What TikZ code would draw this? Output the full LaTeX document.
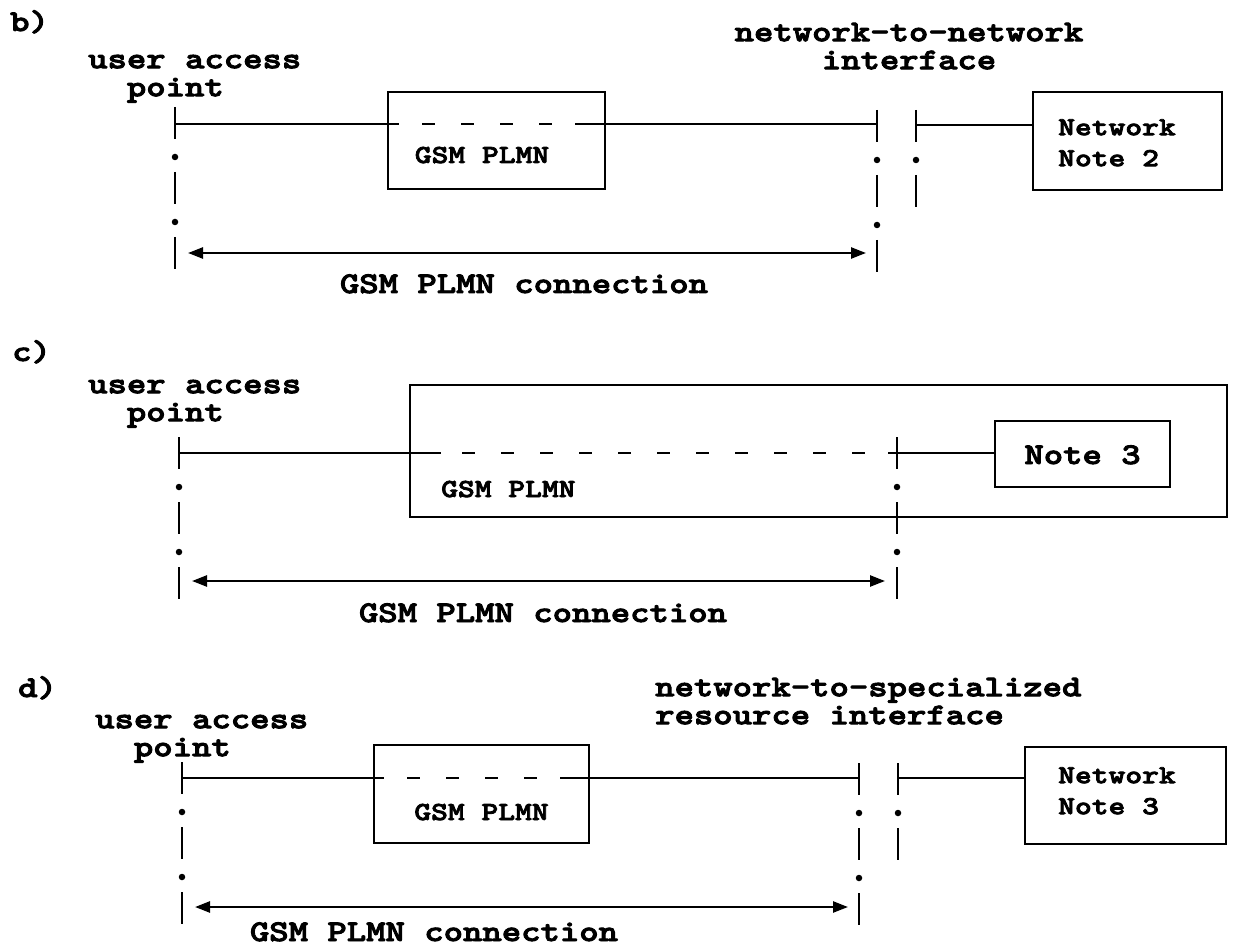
\documentclass[tikz,border=0pt]{standalone}
\usepackage{fontspec}
\newfontfamily\cour{lmmonolt10-bold.otf}[FakeStretch=1.23, FakeBold=3]
\usetikzlibrary{arrows.meta}
\tikzset{
  lw/.style={line width=2.4pt},
  txt/.style={font={\cour\fontsize{30}{28}\selectfont}, inner sep=0pt, anchor=base west},
  ctxt/.style={txt, anchor=base},
  lbl/.style={txt, align=left, anchor=north west},
  clbl/.style={txt, align=center, anchor=north},
  stxt/.style={txt, font={\cour\fontsize{26}{31}\selectfont}},
  sctxt/.style={stxt, anchor=base},
  slbl/.style={stxt, align=left, anchor=north west},
  box/.style={draw, line width=2.4pt, inner sep=0pt},
  indash/.style={lw, dash pattern=on 13pt off 26pt},
  vseg/.style={lw, dash pattern=on 32pt off 33pt},
  vdot/.style={line width=6.5pt, line cap=round, dash pattern=on 0pt off 65pt, dash phase=15pt},
  dimarrow/.style={lw, {Triangle[length=15pt,width=11pt]}-{Triangle[length=15pt,width=11pt]}}
}
\begin{document}
\begin{tikzpicture}[x=1pt,y=-1pt]
\useasboundingbox (0,0) rectangle (1234,949);
% ================= b) =================
\node[txt] (blab) at (10,31) {b)};
\node[lbl] (bua) at (88,48.4) {\strut user access\\\strut\phantom{xx}point};
\node[clbl] (bnn) at (909,21.4) {\strut network-to-network\\\strut interface};
\node[box, minimum width=217pt, minimum height=97pt] (bbox) at (496.5,140.5) {};
\node[sctxt] (bboxt) at (482,163) {GSM PLMN};
\node[box, minimum width=189pt, minimum height=98pt] (nn2) at (1127.5,141) {};
\node[slbl] (nn2t) at (1058,113.3) {\strut Network\\\strut Note 2};
\node[ctxt] (bcon) at (524,293) {GSM PLMN connection};
\coordinate (bLt) at (175,107); \coordinate (bLb) at (175,269);
\coordinate (bRt) at (877,110); \coordinate (bRb) at (877,272);
\coordinate (bR2t) at (916,110); \coordinate (bR2b) at (916,207);
\draw[vseg] (bLt) -- (bLb); \draw[vdot] (bLt) -- (bLb);
\draw[vseg] (bRt) -- (bRb); \draw[vdot] (bRt) -- (bRb);
\draw[vseg] (bR2t) -- (bR2b); \draw[vdot] (bR2t) -- (bR2b);
\coordinate (bL) at (175,124); \coordinate (bR) at (877,124);
\coordinate (bd1) at (399,124); \coordinate (bd2) at (422,124);
\coordinate (bd3) at (554,124); \coordinate (bd4) at (575,124);
\coordinate (bR2) at (916,125);
\draw[lw] (bL) -- (bd1);
\draw[indash] (bd2) -- (bd3);
\draw[lw] (bd4) -- (bR);
\draw[lw] (bR2) -- (bR2 -| nn2.west);
\coordinate (ba1) at (188,253); \coordinate (ba2) at (866,253);
\draw[dimarrow] (ba1) -- (ba2);
% ================= c) =================
\node[txt] (clab) at (12,361) {c)};
\node[lbl] (cua) at (88,373.4) {\strut user access\\\strut\phantom{xx}point};
\node[box, minimum width=817pt, minimum height=132pt] (cbox) at (818.5,451) {};
\node[stxt] (cboxt) at (441,497) {GSM PLMN};
\node[box, minimum width=175pt, minimum height=66pt] (n3) at (1082.5,454) {};
\node[ctxt] (n3t) at (1082.5,464) {Note 3};
\node[ctxt] (ccon) at (543,622) {GSM PLMN connection};
\coordinate (cLt) at (179,437); \coordinate (cLb) at (179,599);
\coordinate (cRt) at (897,437); \coordinate (cRb) at (897,599);
\draw[vseg] (cLt) -- (cLb); \draw[vdot] (cLt) -- (cLb);
\draw[vseg] (cRt) -- (cRb); \draw[vdot] (cRt) -- (cRb);
\coordinate (cL) at (179,453);
\coordinate (cd1) at (441,453); \coordinate (cd2) at (462,453);
\coordinate (cd3) at (865,453); \coordinate (cd4) at (888,453);
\draw[lw] (cL) -- (cd1);
\draw[indash] (cd2) -- (cd3);
\draw[lw] (cd4) -- (cd4 -| n3.west);
\coordinate (ca1) at (192,581); \coordinate (ca2) at (885,581);
\draw[dimarrow] (ca1) -- (ca2);
% ================= d) =================
\node[txt] (dlab) at (18,697) {d)};
\node[lbl] (dua) at (95,708.4) {\strut user access\\\strut\phantom{xx}point};
\node[lbl] (dns) at (655,676.4) {\strut network-to-specialized\\\strut resource interface};
\node[box, minimum width=215pt, minimum height=98pt] (dbox) at (481.5,794) {};
\node[sctxt] (dboxt) at (481.5,820) {GSM PLMN};
\node[box, minimum width=201pt, minimum height=97pt] (nn3) at (1125.5,795.5) {};
\node[slbl] (nn3t) at (1058,761.3) {\strut Network\\\strut Note 3};
\node[ctxt] (dcon) at (434,941) {GSM PLMN connection};
\coordinate (dLt) at (182,762); \coordinate (dLb) at (182,924);
\coordinate (dRt) at (859,763); \coordinate (dRb) at (859,925);
\coordinate (dR2t) at (898,763); \coordinate (dR2b) at (898,860);
\draw[vseg] (dLt) -- (dLb); \draw[vdot] (dLt) -- (dLb);
\draw[vseg] (dRt) -- (dRb); \draw[vdot] (dRt) -- (dRb);
\draw[vseg] (dR2t) -- (dR2b); \draw[vdot] (dR2t) -- (dR2b);
\coordinate (dL) at (182,778); \coordinate (dR) at (859,778);
\coordinate (dd1) at (384,778); \coordinate (dd2) at (407,778);
\coordinate (dd3) at (537,778); \coordinate (dd4) at (560,778);
\coordinate (dR2) at (898,778);
\draw[lw] (dL) -- (dd1);
\draw[indash] (dd2) -- (dd3);
\draw[lw] (dd4) -- (dR);
\draw[lw] (dR2) -- (dR2 -| nn3.west);
\coordinate (da1) at (195,907); \coordinate (da2) at (848,907);
\draw[dimarrow] (da1) -- (da2);
\end{tikzpicture}
\end{document}
